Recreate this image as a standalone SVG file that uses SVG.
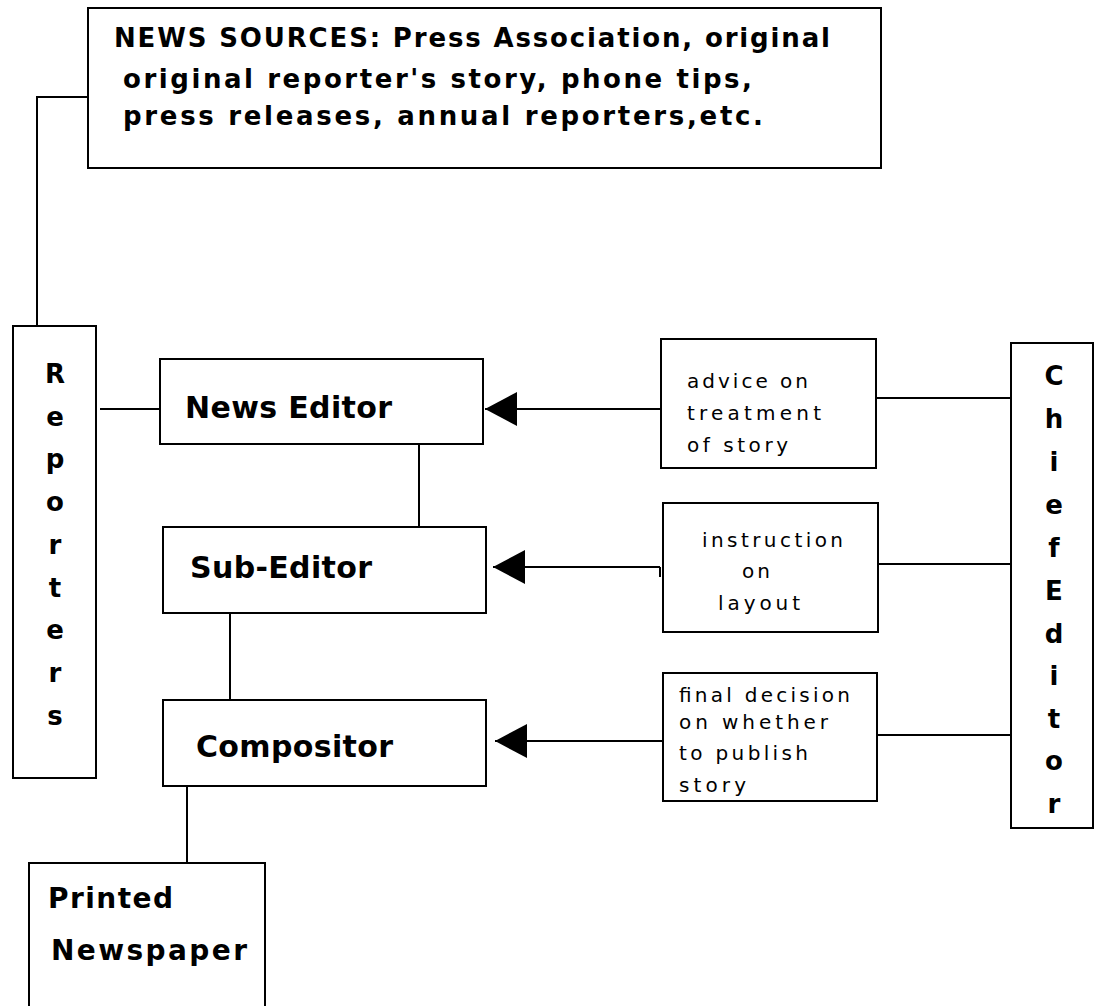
<svg xmlns="http://www.w3.org/2000/svg" width="1101" height="1006" viewBox="0 0 1101 1006">
<style>
.box{fill:#fff;stroke:#000;stroke-width:2}
.ln{fill:none;stroke:#000;stroke-width:2}
.b{font-family:"DejaVu Sans","Liberation Sans",Arial,sans-serif;font-weight:bold;fill:#000}
.r{font-family:"DejaVu Sans","Liberation Sans",Arial,sans-serif;font-size:20px;fill:#000}
.big{font-size:30px}
.top{font-size:26px}
.vert{font-size:26px;text-anchor:middle}
</style>
<defs>
<marker id="arrow" viewBox="0 0 32 34" markerWidth="32" markerHeight="34" refX="32" refY="17" orient="auto" markerUnits="userSpaceOnUse">
<path d="M0,0 L32,17 L0,34 z" fill="#000"/>
</marker>
</defs>
<rect width="1101" height="1006" fill="#fff"/>
<g id="connectors">
<path class="ln" d="M88,97 H37 V326"/>
<path class="ln" d="M100,409 H160"/>
<path class="ln" d="M419,444 V527"/>
<path class="ln" d="M230,613 V700"/>
<path class="ln" d="M187,786 V863"/>
<line class="ln" x1="661" y1="409" x2="485" y2="409" marker-end="url(#arrow)"/>
<line class="ln" x1="660" y1="567" x2="493" y2="567" marker-end="url(#arrow)"/>
<path class="ln" d="M660,567 V577"/>
<line class="ln" x1="663" y1="741" x2="495" y2="741" marker-end="url(#arrow)"/>
<path class="ln" d="M876,398 H1011"/>
<path class="ln" d="M878,564 H1011"/>
<path class="ln" d="M874,735 H1011"/>
</g>
<g id="news-sources">
<rect class="box" x="88" y="8" width="793" height="160"/>
<text class="b top" x="114" y="47" textLength="716" lengthAdjust="spacing">NEWS SOURCES: Press Association, original</text>
<text class="b top" x="123" y="88" textLength="629" lengthAdjust="spacing">original reporter's story, phone tips,</text>
<text class="b top" x="123" y="125" textLength="640" lengthAdjust="spacing">press releases, annual reporters,etc.</text>
</g>
<g id="reporters">
<rect class="box" x="13" y="326" width="83" height="452"/>
<text class="b vert" x="55" y="383">R</text>
<text class="b vert" x="55" y="426">e</text>
<text class="b vert" x="55" y="468">p</text>
<text class="b vert" x="55" y="511">o</text>
<text class="b vert" x="55" y="554">r</text>
<text class="b vert" x="55" y="597">t</text>
<text class="b vert" x="55" y="639">e</text>
<text class="b vert" x="55" y="682">r</text>
<text class="b vert" x="55" y="725">s</text>
</g>
<g id="news-editor">
<rect class="box" x="160" y="359" width="323" height="85"/>
<text class="b big" x="185" y="418" textLength="207" lengthAdjust="spacing">News Editor</text>
</g>
<g id="sub-editor">
<rect class="box" x="163" y="527" width="323" height="86"/>
<text class="b big" x="190" y="578" textLength="182" lengthAdjust="spacing">Sub-Editor</text>
</g>
<g id="compositor">
<rect class="box" x="163" y="700" width="323" height="86"/>
<text class="b big" x="196" y="757" textLength="197" lengthAdjust="spacing">Compositor</text>
</g>
<g id="printed-newspaper">
<path class="box" d="M29,1010 V863 H265 V1010"/>
<text class="b" style="font-size:28px" x="48" y="908" textLength="125" lengthAdjust="spacing">Printed</text>
<text class="b" style="font-size:28px" x="51" y="960" textLength="196" lengthAdjust="spacing">Newspaper</text>
</g>
<g id="advice">
<rect class="box" x="661" y="339" width="215" height="129"/>
<text class="r" x="687" y="388" textLength="121" lengthAdjust="spacing">advice on</text>
<text class="r" x="687" y="420" textLength="134" lengthAdjust="spacing">treatment</text>
<text class="r" x="687" y="452" textLength="101" lengthAdjust="spacing">of story</text>
</g>
<g id="instruction">
<rect class="box" x="663" y="503" width="215" height="129"/>
<text class="r" x="702" y="547" textLength="141" lengthAdjust="spacing">instruction</text>
<text class="r" x="742" y="578" textLength="28" lengthAdjust="spacing">on</text>
<text class="r" x="718" y="610" textLength="82" lengthAdjust="spacing">layout</text>
</g>
<g id="final-decision">
<rect class="box" x="663" y="673" width="214" height="128"/>
<text class="r" x="679" y="702" textLength="171" lengthAdjust="spacing">final decision</text>
<text class="r" x="679" y="729" textLength="149" lengthAdjust="spacing">on whether</text>
<text class="r" x="679" y="760" textLength="129" lengthAdjust="spacing">to publish</text>
<text class="r" x="679" y="792" textLength="67" lengthAdjust="spacing">story</text>
</g>
<g id="chief-editor">
<rect class="box" x="1011" y="343" width="82" height="485"/>
<text class="b vert" x="1054" y="385">C</text>
<text class="b vert" x="1054" y="428">h</text>
<text class="b vert" x="1054" y="471">i</text>
<text class="b vert" x="1054" y="514">e</text>
<text class="b vert" x="1054" y="557">f</text>
<text class="b vert" x="1054" y="600">E</text>
<text class="b vert" x="1054" y="643">d</text>
<text class="b vert" x="1054" y="685">i</text>
<text class="b vert" x="1054" y="728">t</text>
<text class="b vert" x="1054" y="770">o</text>
<text class="b vert" x="1054" y="813">r</text>
</g>
</svg>
